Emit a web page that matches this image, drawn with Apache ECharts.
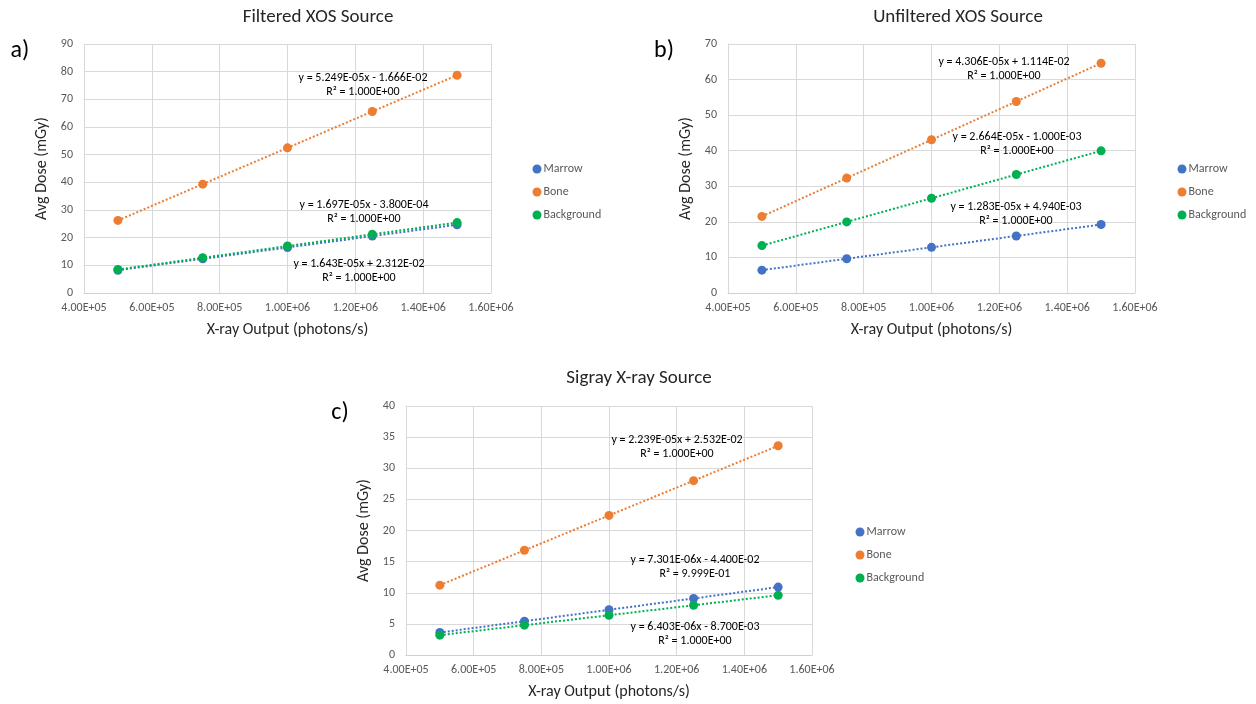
<!DOCTYPE html>
<html>
<head>
<meta charset="utf-8">
<script src="https://cdn.jsdelivr.net/npm/echarts@6/dist/echarts.min.js"></script>
<style>
  html, body { margin: 0; padding: 0; background: #ffffff; }
  #chart { width: 1256px; height: 704px; }
</style>
</head>
<body>
<div id="chart"></div>
<script>
// X-ray output (photons/s) shared by all three panels
const xOutput = [5.0e5, 7.5e5, 1.0e6, 1.25e6, 1.5e6];
const seriesNames = ['Marrow', 'Bone', 'Background'];

// a) Filtered XOS source — average dose (mGy)
const filteredMarrow = [8.24, 12.35, 16.45, 20.56, 24.67];
const filteredBone = [26.23, 39.35, 52.47, 65.60, 78.72];
const filteredBackground = [8.49, 12.73, 16.97, 21.21, 25.45];

// b) Unfiltered XOS source
const unfilteredMarrow = [6.42, 9.63, 12.84, 16.04, 19.25];
const unfilteredBone = [21.54, 32.31, 43.07, 53.84, 64.60];
const unfilteredBackground = [13.32, 19.98, 26.64, 33.30, 39.96];

// c) Sigray X-ray source
const sigrayMarrow = [3.61, 5.43, 7.26, 9.08, 10.91];
const sigrayBone = [11.22, 16.82, 22.42, 28.01, 33.61];
const sigrayBackground = [3.19, 4.79, 6.39, 7.99, 9.60];

// Trendline equations (Marrow, Bone, Background)
const filteredEquations = [
  ['y = 1.643E-05x + 2.312E-02', 'R² = 1.000E+00'],
  ['y = 5.249E-05x - 1.666E-02', 'R² = 1.000E+00'],
  ['y = 1.697E-05x - 3.800E-04', 'R² = 1.000E+00']
];
const unfilteredEquations = [
  ['y = 1.283E-05x + 4.940E-03', 'R² = 1.000E+00'],
  ['y = 4.306E-05x + 1.114E-02', 'R² = 1.000E+00'],
  ['y = 2.664E-05x - 1.000E-03', 'R² = 1.000E+00']
];
const sigrayEquations = [
  ['y = 7.301E-06x - 4.400E-02', 'R² = 9.999E-01'],
  ['y = 2.239E-05x + 2.532E-02', 'R² = 1.000E+00'],
  ['y = 6.403E-06x - 8.700E-03', 'R² = 1.000E+00']
];

const panelTitles = ['Filtered XOS Source', 'Unfiltered XOS Source', 'Sigray X-ray Source'];
const panelLetters = ['a)', 'b)', 'c)'];
const yMax = [90, 70, 40];
const yStep = [10, 10, 5];

const colors = ['#4472C4', '#ED7D31', '#00B050'];
const FONT = 'Carlito, "Liberation Sans Narrow", "Open Sans", sans-serif';

const panels = [
  { data: [filteredMarrow, filteredBone, filteredBackground], eq: filteredEquations,
    grid: { left: 84, top: 44, width: 407, height: 249 },
    title: [318, 17], letter: [20, 51],
    legend: { left: 527.5, top: 157 },
    // equation centres [x, y] for Marrow, Bone, Background
    eqPos: [[359, 264], [363, 78], [364, 205]] },
  { data: [unfilteredMarrow, unfilteredBone, unfilteredBackground], eq: unfilteredEquations,
    grid: { left: 728, top: 44, width: 407, height: 249 },
    title: [958, 17], letter: [664, 51],
    legend: { left: 1172.5, top: 157 },
    eqPos: [[1016, 207], [1004, 62], [1017, 137]] },
  { data: [sigrayMarrow, sigrayBone, sigrayBackground], eq: sigrayEquations,
    grid: { left: 406, top: 406, width: 406, height: 249 },
    title: [639, 378], letter: [340, 413],
    legend: { left: 850.5, top: 520 },
    eqPos: [[695, 560], [677, 440], [695, 627]] }
];

function sci(v) {
  if (v === 0) return '0.00E+00';
  const e = Math.floor(Math.log10(Math.abs(v)) + 1e-9);
  const m = v / Math.pow(10, e);
  const sign = e < 0 ? '-' : '+';
  const ae = Math.abs(e);
  return m.toFixed(2) + 'E' + sign + (ae < 10 ? '0' + ae : ae);
}

const grids = [], xAxes = [], yAxes = [], series = [], legends = [], graphics = [];

panels.forEach((p, i) => {
  grids.push(Object.assign({ containLabel: false }, p.grid));
  xAxes.push({
    type: 'value', gridIndex: i, min: 4e5, max: 1.6e6, interval: 2e5,
    name: 'X-ray Output (photons/s)', nameLocation: 'middle', nameGap: 29,
    nameTextStyle: { fontFamily: FONT, fontSize: 16, color: '#262626' },
    axisLine: { show: true, lineStyle: { color: '#d0d0d0', width: 1 } },
    axisTick: { show: false },
    axisLabel: { formatter: sci, fontFamily: FONT, fontSize: 12, color: '#595959', margin: 9 },
    splitLine: { show: true, lineStyle: { color: '#d9d9d9', width: 1 } }
  });
  yAxes.push({
    type: 'value', gridIndex: i, min: 0, max: yMax[i], interval: yStep[i],
    name: 'Avg Dose (mGy)', nameLocation: 'middle', nameGap: 34,
    nameTextStyle: { fontFamily: FONT, fontSize: 16, color: '#262626' },
    axisLine: { show: true, lineStyle: { color: '#d9d9d9', width: 1 } },
    axisTick: { show: false },
    axisLabel: { fontFamily: FONT, fontSize: 12, color: '#595959', margin: 11 },
    splitLine: { show: true, lineStyle: { color: '#d9d9d9', width: 1 } }
  });
  p.data.forEach((vals, k) => {
    series.push({
      type: 'line', name: seriesNames[k], xAxisIndex: i, yAxisIndex: i,
      data: xOutput.map((x, j) => [x, vals[j]]),
      symbol: 'circle', symbolSize: 9,
      itemStyle: { color: colors[k] },
      lineStyle: { color: colors[k], type: [2, 2], width: 2 },
      z: k === 2 ? 4 : 3,
      animation: false
    });
  });
  graphics.push({
    type: 'text', x: p.title[0], y: p.title[1], z: 100,
    style: { text: panelTitles[i], fill: '#262626', font: '19px ' + FONT, textAlign: 'center', textVerticalAlign: 'middle' }
  });
  graphics.push({
    type: 'text', x: p.letter[0], y: p.letter[1], z: 100,
    style: { text: panelLetters[i], fill: '#000000', font: '24px ' + FONT, textAlign: 'center', textVerticalAlign: 'middle' }
  });
  legends.push({
    orient: 'vertical', left: p.legend.left, top: p.legend.top,
    data: seriesNames.map((n, k) => ({ name: n, icon: 'circle', itemStyle: { color: colors[k] } })),
    itemWidth: 9, itemHeight: 9, itemGap: 9,
    textStyle: { fontFamily: FONT, fontSize: 12, lineHeight: 14, color: '#595959', padding: [0, 0, 0, -3] },
    selectedMode: false
  });
  p.eq.forEach((lines, k) => {
    const [cx, cy] = p.eqPos[k];
    lines.forEach((t, li) => {
      graphics.push({
        type: 'text', x: cx, y: cy + li * 14, z: 100,
        style: { text: t, fill: '#000000', font: '12px ' + FONT, textAlign: 'center', textVerticalAlign: 'middle' }
      });
    });
  });
});

const chart = echarts.init(document.getElementById('chart'));
chart.setOption({
  backgroundColor: '#ffffff',
  animation: false,
  legend: legends,
  grid: grids,
  xAxis: xAxes,
  yAxis: yAxes,
  series: series,
  graphic: graphics
});
</script>
</body>
</html>
